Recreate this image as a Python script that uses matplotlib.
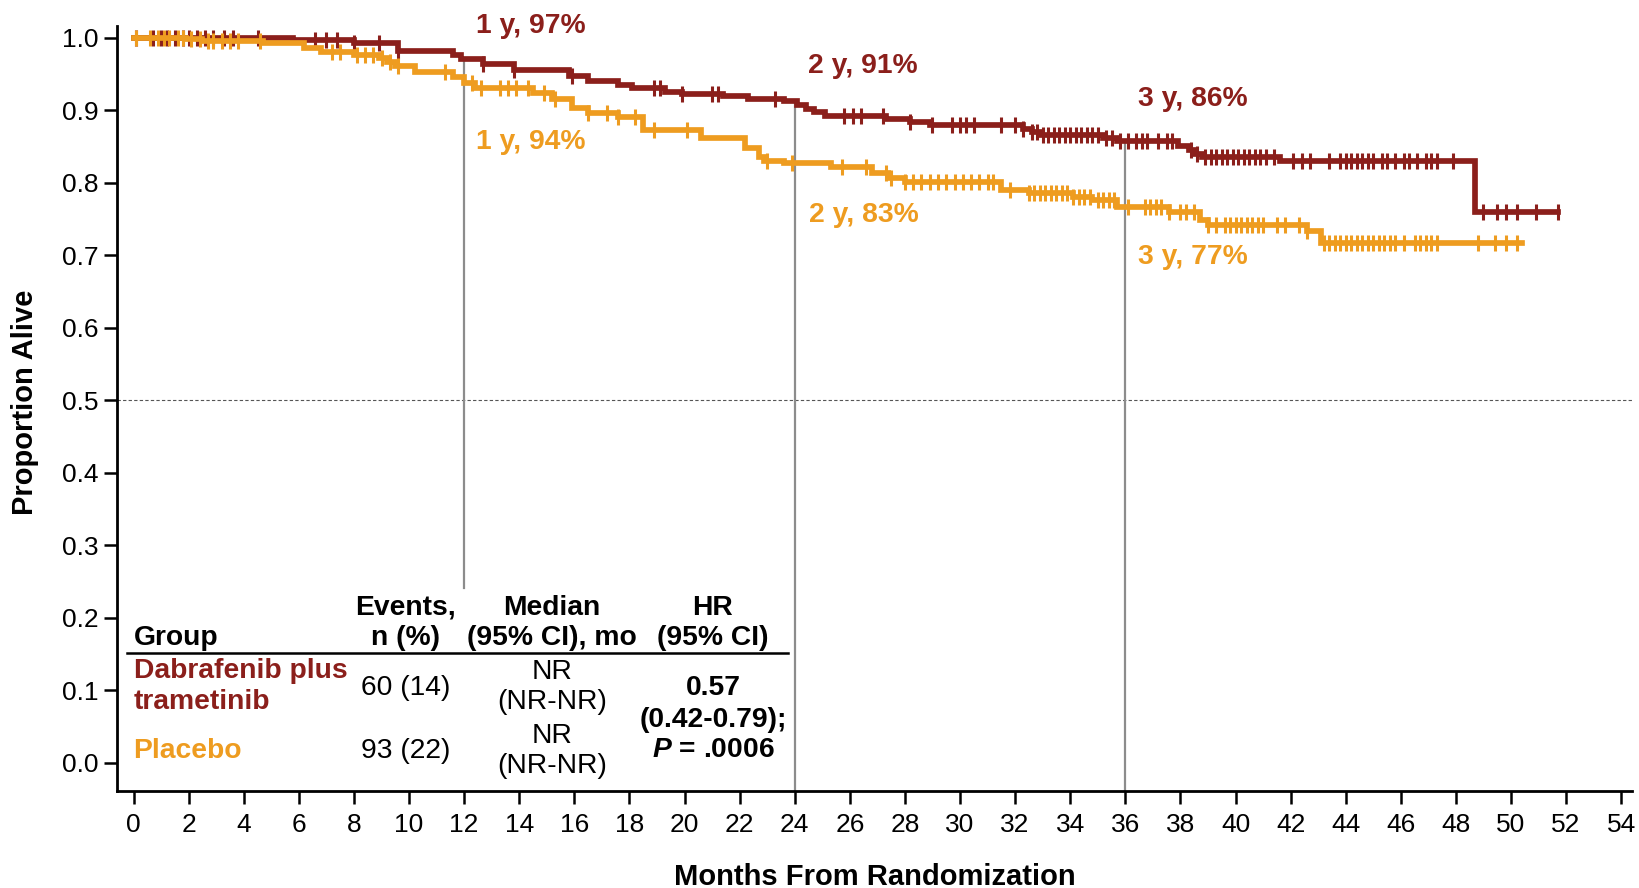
import numpy as np
import matplotlib
matplotlib.use('Agg')
import matplotlib.pyplot as plt

plt.rcParams['font.family'] = ['Liberation Sans', 'DejaVu Sans']
plt.rcParams['mathtext.fontset'] = 'custom'
plt.rcParams['mathtext.it'] = 'Liberation Sans:italic:bold'
plt.rcParams['mathtext.rm'] = 'Liberation Sans:bold'

RED = '#8B1F1B'
ORANGE = '#EE9C20'
GREY = '#8C8C8C'

# ---------------- data ----------------
dt_times = [0, 5.8, 8.0, 9.6, 11.6, 11.9, 12.7, 13.8, 15.8, 16.5, 17.6, 18.1, 19.3, 19.9,
            21.4, 22.3, 23.6, 24.1, 24.4, 24.7, 25.1, 27.3, 28.2, 28.9, 32.3, 32.6, 32.9,
            35.2, 35.7, 37.9, 38.3, 38.5, 38.8, 41.6, 48.7]
dt_surv = [1.0, 0.997, 0.992, 0.982, 0.976, 0.970, 0.963, 0.956, 0.947, 0.940, 0.934, 0.930,
           0.925, 0.922, 0.919, 0.915, 0.912, 0.907, 0.902, 0.897, 0.892, 0.888, 0.884, 0.879,
           0.874, 0.870, 0.866, 0.862, 0.858, 0.851, 0.845, 0.840, 0.836, 0.830, 0.759]
dt_end = 51.7
dt_censor = [0.1, 0.7, 1.0, 1.2, 1.5, 1.8, 2.0, 2.3, 2.6, 2.9, 3.3, 3.6, 4.5, 6.6, 7.0, 7.4,
             8.0, 8.9, 9.6, 12.7, 13.8, 15.9, 18.9, 19.1, 19.9, 21.0, 21.2, 23.3, 25.8, 26.1,
             26.4, 27.2, 28.2, 29.0, 29.7, 30.0, 30.2, 30.5, 31.5, 32.0, 32.3, 32.6, 32.8,
             33.0, 33.2, 33.4, 33.6, 33.8, 34.0, 34.2, 34.4, 34.6, 34.8, 35.0, 35.3, 35.5,
             35.8, 36.1, 36.4, 36.6, 36.8, 37.2, 37.5, 37.7, 38.4, 38.6, 38.9, 39.1, 39.3,
             39.5, 39.7, 39.9, 40.1, 40.3, 40.5, 40.7, 40.9, 41.1, 41.4, 42.1, 42.4, 42.7,
             43.4, 43.8, 44.0, 44.2, 44.4, 44.6, 44.8, 45.0, 45.3, 45.5, 45.8, 46.1, 46.3,
             46.6, 46.9, 47.1, 47.3, 47.9, 49.0, 49.5, 49.8, 50.2, 50.9, 51.7]

pl_times = [0, 1.9, 2.5, 4.7, 6.2, 6.8, 8.0, 8.9, 9.2, 9.5, 10.2, 11.6, 12.0, 12.4, 14.5,
            15.2, 15.9, 16.5, 17.6, 18.5, 20.6, 22.2, 22.7, 22.9, 23.6, 25.3, 26.8, 27.4,
            28.0, 31.5, 32.5, 34.1, 34.8, 35.7, 37.6, 38.7, 39.0, 42.6, 43.1]
pl_surv = [1.0, 0.998, 0.996, 0.992, 0.985, 0.980, 0.976, 0.972, 0.967, 0.961, 0.952, 0.946,
           0.937, 0.931, 0.923, 0.915, 0.903, 0.896, 0.890, 0.873, 0.861, 0.848, 0.836, 0.830,
           0.827, 0.822, 0.813, 0.806, 0.801, 0.790, 0.786, 0.780, 0.776, 0.767, 0.760, 0.749,
           0.742, 0.733, 0.717]
pl_end = 50.4
pl_censor = [0.1, 0.6, 0.9, 1.1, 1.3, 1.6, 1.8, 2.1, 2.4, 2.7, 2.9, 3.2, 3.5, 3.8, 4.6, 7.2,
             7.5, 8.1, 8.4, 8.7, 9.0, 9.3, 9.6, 11.3, 12.3, 12.6, 13.3, 13.6, 13.9, 14.3,
             14.9, 15.3, 16.5, 17.2, 17.6, 18.2, 18.9, 20.1, 23.0, 23.9, 25.7, 26.6, 27.3,
             27.5, 28.0, 28.3, 28.6, 28.9, 29.2, 29.5, 29.8, 30.1, 30.4, 30.7, 31.0, 31.2,
             31.8, 32.5, 32.7, 32.9, 33.1, 33.3, 33.5, 33.7, 33.9, 34.1, 34.3, 34.5, 34.7,
             35.0, 35.2, 35.4, 35.6, 36.1, 36.7, 36.9, 37.1, 37.3, 37.6, 38.0, 38.2, 38.5,
             39.0, 39.3, 39.6, 39.8, 40.0, 40.2, 40.4, 40.6, 40.8, 41.0, 41.5, 41.8, 42.3,
             42.6, 43.2, 43.4, 43.6, 43.8, 44.0, 44.2, 44.4, 44.6, 44.8, 45.0, 45.2, 45.4,
             45.6, 45.8, 46.1, 46.5, 46.7, 46.9, 47.1, 47.3, 48.8, 49.4, 49.8, 50.2]

landmark_months = [12, 24, 36]
dt_labels = ['1 y, 97%', '2 y, 91%', '3 y, 86%']
pl_labels = ['1 y, 94%', '2 y, 83%', '3 y, 77%']

x_ticks = list(range(0, 56, 2))
y_ticks = [0.0, 0.1, 0.2, 0.3, 0.4, 0.5, 0.6, 0.7, 0.8, 0.9, 1.0]

groups = ['Dabrafenib plus\ntrametinib', 'Placebo']
events = ['60 (14)', '93 (22)']
medians = [('NR', '(NR-NR)'), ('NR', '(NR-NR)')]
hr_lines = ['0.57', '(0.42-0.79);', r'$P$ = .0006']

# ---------------- figure ----------------
W, H = 1639, 888
fig = plt.figure(figsize=(W / 100, H / 100), dpi=100)
ax = fig.add_axes([117.3 / W, (H - 791) / H, (1631.7 - 117.3) / W, (791 - 26) / H])
ax.set_xlim(-0.59, 54.38)
ax.set_ylim(-0.039, 1.016)


def km_value(times, surv, t):
    idx = np.searchsorted(times, t, side='right') - 1
    return np.asarray(surv)[idx]


def draw_km(times, surv, end, censor, color):
    xs = list(times) + [end]
    ys = list(surv) + [surv[-1]]
    ax.step(xs, ys, where='post', color=color, lw=4.1, solid_joinstyle='miter', zorder=3)
    c = np.asarray(censor)
    ax.plot(c, km_value(times, surv, c), ls='none', marker='|', ms=11.5, mew=2.2,
            color=color, zorder=3)


# reference lines
ax.axhline(0.5, color='#555555', lw=0.8, ls=(0, (3, 2)), zorder=1)
bottoms = [0.241, -0.039, -0.039]
for m, b in zip(landmark_months, bottoms):
    top = km_value(dt_times, dt_surv, m)
    ax.plot([m, m], [b, top], color=GREY, lw=1.6, zorder=2, clip_on=False)

draw_km(dt_times, dt_surv, dt_end, dt_censor, RED)
draw_km(pl_times, pl_surv, pl_end, pl_censor, ORANGE)

# landmark annotations
FS = 19
FT = 20.3
FL = 21
dt_pos = [(12.43, 1.006), (24.48, 0.951), (36.45, 0.905)]
pl_pos = [(12.43, 0.847), (24.5, 0.746), (36.45, 0.688)]
for lab, (x, y) in zip(dt_labels, dt_pos):
    ax.text(x, y, lab, color=RED, fontsize=FT, fontweight='bold', ha='left', va='baseline',
            clip_on=False)
for lab, (x, y) in zip(pl_labels, pl_pos):
    ax.text(x, y, lab, color=ORANGE, fontsize=FT, fontweight='bold', ha='left', va='baseline',
            clip_on=False)

# axes styling
for s in ['top', 'right']:
    ax.spines[s].set_visible(False)
for s in ['left', 'bottom']:
    ax.spines[s].set_linewidth(2.0)
ax.set_xticks(x_ticks)
ax.set_xticklabels([str(v) for v in x_ticks])
ax.set_yticks(y_ticks)
ax.set_yticklabels(['%.1f' % v for v in y_ticks])
ax.tick_params(axis='both', direction='out', length=9.5, width=1.8, labelsize=FS,
               colors='black')
ax.tick_params(axis='x', pad=6)
ax.tick_params(axis='y', pad=4)
ax.set_xlabel('Months From Randomization', fontsize=FL, fontweight='bold')
ax.set_ylabel('Proportion Alive', fontsize=FL, fontweight='bold')
ax.xaxis.set_label_coords(0.5, -0.094)
ax.yaxis.set_label_coords(-0.052, 0.508)

# table
col_group = 0.0
col_events = 9.86
col_median = 15.18
col_hr = 21.03
hdr1, hdr2 = 0.204, 0.162
kw = dict(fontsize=FT, va='baseline', clip_on=False)
ax.text(col_group, hdr2, 'Group', ha='left', fontweight='bold', **kw)
ax.text(col_events, hdr1, 'Events,', ha='center', fontweight='bold', **kw)
ax.text(col_events, hdr2, 'n (%)', ha='center', fontweight='bold', **kw)
ax.text(col_median, hdr1, 'Median', ha='center', fontweight='bold', **kw)
ax.text(col_median, hdr2, '(95% CI), mo', ha='center', fontweight='bold', **kw)
ax.text(col_hr, hdr1, 'HR', ha='center', fontweight='bold', **kw)
ax.text(col_hr, hdr2, '(95% CI)', ha='center', fontweight='bold', **kw)
ax.plot([-0.24, 23.74], [0.1517, 0.1517], color='black', lw=1.8, clip_on=False)

g1 = groups[0].split('\n')
ax.text(col_group, 0.1164, g1[0], ha='left', fontweight='bold', color=RED, **kw)
ax.text(col_group, 0.0737, g1[1], ha='left', fontweight='bold', color=RED, **kw)
ax.text(col_group, 0.006, groups[1], ha='left', fontweight='bold', color=ORANGE, **kw)
ax.text(col_events, 0.0934, events[0], ha='center', **kw)
ax.text(col_events, 0.006, events[1], ha='center', **kw)
ax.text(col_median, 0.1154, medians[0][0], ha='center', **kw)
ax.text(col_median, 0.0737, medians[0][1], ha='center', **kw)
ax.text(col_median, 0.0268, medians[1][0], ha='center', **kw)
ax.text(col_median, -0.0146, medians[1][1], ha='center', **kw)
ax.text(col_hr, 0.0934, hr_lines[0], ha='center', fontweight='bold', **kw)
ax.text(col_hr, 0.0497, hr_lines[1], ha='center', fontweight='bold', **kw)
ax.text(col_hr, 0.0083, hr_lines[2], ha='center', fontweight='bold', **kw)

fig.savefig('out.png', dpi=100)
